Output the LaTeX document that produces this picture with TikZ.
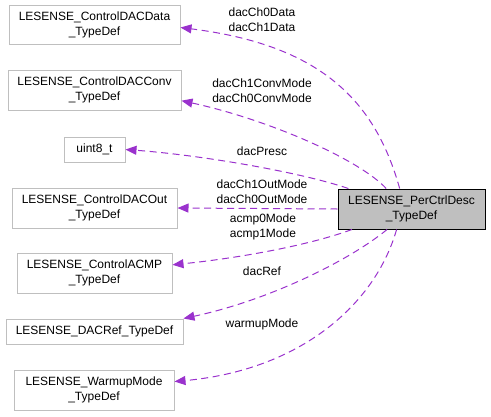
\documentclass[tikz,border=0pt]{standalone}
\usepackage{fontspec}
\setmainfont{Liberation Sans}
\usetikzlibrary{arrows.meta}
\definecolor{edgepurple}{HTML}{9A32CD}
\definecolor{boxgray}{HTML}{BFBFBF}
\begin{document}
\begin{tikzpicture}[x=1pt,y=-1pt,
  every node/.style={font=\fontsize{12}{15}\selectfont,align=center,inner sep=0pt},
  member/.style={draw=boxgray,line width=1pt,fill=white},
  main/.style={draw=black,line width=1pt,fill=boxgray},
  uses/.style={edgepurple,line width=1pt,dash pattern=on 7pt off 4.5pt,
    -{Triangle[length=11pt,width=9pt]}}]
\useasboundingbox (0,0) rectangle (491,416);
% member types on the left
\node[member,minimum width=171pt,minimum height=39pt] (dacdata) at (94.5,24.5) {LESENSE\_ControlDACData\\\_TypeDef};
\node[member,minimum width=173pt,minimum height=40pt] (dacconv) at (94.5,90) {LESENSE\_ControlDACConv\\\_TypeDef};
\node[member,minimum width=61pt,minimum height=25pt] (uint) at (94.5,149.5) {uint8\_t};
\node[member,minimum width=165pt,minimum height=40pt] (dacout) at (94.5,208) {LESENSE\_ControlDACOut\\\_TypeDef};
\node[member,minimum width=155pt,minimum height=40pt] (acmp) at (94.5,273) {LESENSE\_ControlACMP\\\_TypeDef};
\node[member,minimum width=177pt,minimum height=25pt] (dacref) at (94.5,331.5) {LESENSE\_DACRef\_TypeDef};
\node[member,minimum width=160pt,minimum height=40pt] (warmup) at (94,390) {LESENSE\_WarmupMode\\\_TypeDef};
% the struct itself
\node[main,minimum width=147pt,minimum height=40pt] (desc) at (411.5,209) {LESENSE\_PerCtrlDesc\\\_TypeDef};
% connectors
\draw[uses] (desc.120) .. controls (375,100) and (320,45) .. (dacdata.-2);
\draw[uses] (desc.141) .. controls (360,160) and (270,120) .. (dacconv.-7);
\draw[uses] (desc.162) .. controls (300,172) and (200,155) .. (uint.east);
\draw[uses] (desc.west) -- (dacout.east);
\draw[uses] (desc.199) .. controls (310,245) and (240,258) .. (acmp.6);
\draw[uses] (desc.220) .. controls (350,260) and (270,300) .. (dacref.north east);
\draw[uses] (desc.234) .. controls (375,305) and (300,370) .. (warmup.6);
% member names
\node (lbldata) at (262,19.5) {dacCh0Data\\dacCh1Data};
\node (lblconv) at (262,91) {dacCh1ConvMode\\dacCh0ConvMode};
\node (lblpresc) at (262,151) {dacPresc};
\node (lblout) at (262,192) {dacCh1OutMode\\dacCh0OutMode};
\node (lblacmp) at (263,226.5) {acmp0Mode\\acmp1Mode};
\node (lblref) at (262,271) {dacRef};
\node (lblwarm) at (262,324) {warmupMode};
\end{tikzpicture}
\end{document}
